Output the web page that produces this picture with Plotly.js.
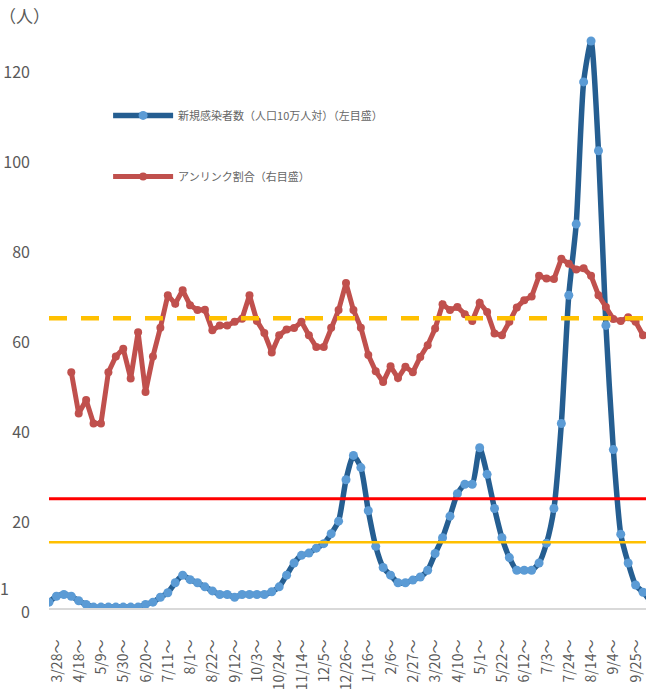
<!DOCTYPE html>
<html>
<head>
<meta charset="utf-8">
<script src="https://cdn.plot.ly/plotly-3.0.1.min.js"></script>
<style>html,body{margin:0;padding:0;background:#fff;}#chart{width:646px;height:700px;}</style>
</head>
<body>
<div id="chart"></div>
<script>
// Weekly categories (week starting), 2020-03-28 ... 2021-10-16
const weeks = [
  "3/28","4/4","4/11","4/18","4/25","5/2","5/9","5/16","5/23","5/30",
  "6/6","6/13","6/20","6/27","7/4","7/11","7/18","7/25","8/1","8/8",
  "8/15","8/22","8/29","9/5","9/12","9/19","9/26","10/3","10/10","10/17",
  "10/24","10/31","11/7","11/14","11/21","11/28","12/5","12/12","12/19","12/26",
  "1/2","1/9","1/16","1/23","1/30","2/6","2/13","2/20","2/27","3/6",
  "3/13","3/20","3/27","4/3","4/10","4/17","4/24","5/1","5/8","5/15",
  "5/22","5/29","6/5","6/12","6/19","6/26","7/3","7/10","7/17","7/24",
  "7/31","8/7","8/14","8/21","8/28","9/4","9/11","9/18","9/25","10/2",
  "10/9","10/16"
];
// Tick labels shown every 3 weeks
const tickWeeks = ["3/28","4/18","5/9","5/30","6/20","7/11","8/1","8/22","9/12","10/3",
  "10/24","11/14","12/5","12/26","1/16","2/6","2/27","3/20","4/10","5/1",
  "5/22","6/12","7/3","7/24","8/14","9/4","9/25"];
const tickSuffix = "～";

// 新規感染者数（人口10万人対）（左目盛）
const newCases = [
  1.3,2.6,3.0,2.6,1.6,0.8,0.2,0.2,0.2,0.2,
  0.2,0.2,0.2,0.8,1.3,2.4,3.4,5.6,7.3,6.3,
  5.6,4.7,3.8,3.0,3.0,2.4,3.0,3.0,3.0,3.0,
  3.6,4.7,7.3,10.0,11.7,12.2,13.3,14.3,16.5,19.3,
  28.5,33.9,31.2,21.6,13.7,9.0,7.3,5.6,5.6,6.2,
  6.9,8.4,12.1,15.6,20.4,25.4,27.5,27.5,35.6,29.7,
  22.1,15.6,11.2,8.4,8.4,8.4,10.0,14.4,22.1,41.0,
  69.5,85.3,116.9,126.0,101.6,62.8,35.2,16.4,10.0,5.1,
  3.5,1.5
];
// アンリンク割合（右目盛）
const unlinkedRatio = [
  null,null,null,52.4,43.2,46.2,41.0,41.0,52.4,55.9,
  57.6,51.0,61.3,48.0,55.9,62.3,69.5,67.6,70.6,67.3,
  66.2,66.3,61.7,62.8,62.8,63.6,64.3,69.5,63.8,61.1,
  56.8,60.6,61.9,62.2,63.6,60.6,58.0,58.0,62.3,66.2,
  72.2,66.2,62.3,56.2,52.6,50.2,53.7,51.1,53.6,52.4,
  55.8,58.4,62.1,67.5,66.2,66.9,65.3,63.8,67.8,65.8,
  61.0,60.6,63.6,66.8,68.4,69.2,73.8,73.2,73.1,77.6,
  76.5,75.2,75.5,73.8,69.5,66.9,64.2,63.8,64.6,63.6,
  60.6,null
];
// Reference lines (left-axis units as drawn)
const redLevel = 24.3;
const yellowLevel = 14.6;
const ratioReference = 64.4;

const yTicks = [0,20,40,60,80,100,120];

const gray = "#595959";
const font = "'Noto Sans CJK JP', 'Noto Sans', sans-serif";

const traces = [
  {
    x: weeks, y: unlinkedRatio, yaxis: "y2", type: "scatter", mode: "lines+markers",
    name: "アンリンク割合（右目盛）", legendgroup: "b", legendrank: 2,
    line: {color: "#C0504D", width: 5},
    marker: {color: "#C0504D", size: 8},
    connectgaps: false
  },
  {
    x: weeks, y: newCases, type: "scatter", mode: "lines+markers",
    name: "新規感染者数（人口10万人対）（左目盛）", legendgroup: "a", legendrank: 1,
    line: {color: "#255E91", width: 5.5, shape: "spline", smoothing: 0.6},
    marker: {color: "#5B9BD5", size: 9}
  }
];

const layout = {
  width: 646, height: 700,
  margin: {l: 49, r: 0, t: 0, b: 92},
  paper_bgcolor: "#fff", plot_bgcolor: "#fff",
  font: {family: font, color: gray},
  showlegend: true,
  legend: {
    x: 0.099, y: 0.834, xanchor: "left", yanchor: "top",
    bgcolor: "rgba(0,0,0,0)", font: {size: 11, color: "#666"},
    traceorder: "grouped", tracegroupgap: 42, itemwidth: 60
  },
  xaxis: {
    type: "category", categoryorder: "array", categoryarray: weeks,
    range: [0, 80.4],
    tickmode: "array", tickvals: tickWeeks, ticktext: tickWeeks.map(t => t + tickSuffix),
    tickangle: -90, tickfont: {size: 14, color: gray},
    showgrid: false, zeroline: false,
    showline: true, linecolor: "#d9d9d9", linewidth: 2,
    ticks: "", ticklabelstandoff: 24, ticklabelshift: 8
  },
  yaxis: {
    range: [0, 135.1],
    tickmode: "array", tickvals: yTicks,
    tickfont: {size: 16, color: gray},
    showgrid: false, zeroline: false, showline: false, ticks: "",
    ticklabelstandoff: 18, ticklabelshift: 4
  },
  yaxis2: {
    overlaying: "y", side: "right", range: [0, 135.1],
    showticklabels: false, showgrid: false, zeroline: false, showline: false
  },
  shapes: [
    {type: "line", xref: "paper", x0: 0, x1: 1, yref: "y", y0: redLevel, y1: redLevel,
     line: {color: "#FF0000", width: 3}, layer: "above"},
    {type: "line", xref: "paper", x0: 0, x1: 1, yref: "y", y0: yellowLevel, y1: yellowLevel,
     line: {color: "#FFC000", width: 2.5}, layer: "above"},
    {type: "line", xref: "paper", x0: 0, x1: 1, yref: "y", y0: ratioReference, y1: ratioReference,
     line: {color: "#FFC000", width: 4.5, dash: "18px,14px"}, layer: "above"}
  ],
  annotations: [
    {text: "（人）", xref: "paper", yref: "paper", x: 0, y: 1, xanchor: "center", yanchor: "middle",
     xshift: -25, yshift: -15, showarrow: false, font: {size: 17, color: gray}},
    {text: "1", xref: "paper", yref: "paper", x: 0, y: 0, xanchor: "center", yanchor: "middle",
     xshift: -45, yshift: 20, showarrow: false, font: {size: 16, color: gray}}
  ]
};

Plotly.newPlot("chart", traces, layout, {staticPlot: true, displayModeBar: false});
</script>
</body>
</html>
